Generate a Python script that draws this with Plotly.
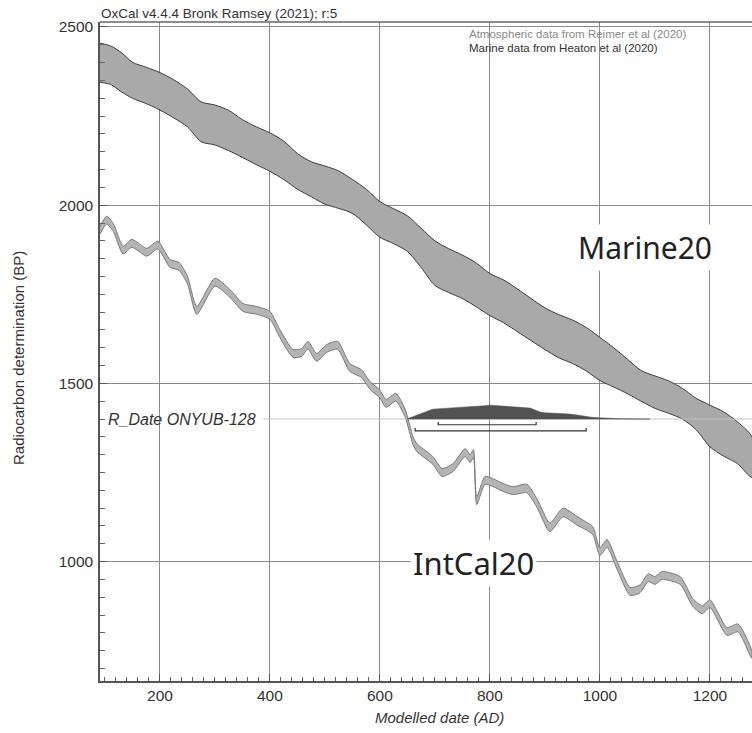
import plotly.graph_objects as go

# ---------------- data ----------------
# IntCal20 atmospheric curve: calendar year AD, mean 14C age BP, 1-sigma
intcal_year = [91, 103, 115, 133, 149, 176, 196, 218, 235, 250, 267, 300, 327, 351, 376,
               400, 418, 442, 458, 469, 485, 503, 523, 545, 566, 582, 600, 611, 629, 646,
               660, 667, 696, 713, 733, 755, 764, 770, 776, 791, 805, 824, 842, 867, 886,
               909, 933, 958, 975, 987, 1000, 1013, 1031, 1055, 1073, 1088, 1100, 1113,
               1146, 1169, 1186, 1200, 1231, 1251, 1276]
intcal_bp = [1930, 1958, 1938, 1874, 1893, 1868, 1888, 1837, 1828, 1790, 1705, 1784, 1753, 1713, 1705,
             1691, 1640, 1584, 1587, 1607, 1573, 1598, 1607, 1545, 1528, 1494, 1470, 1444, 1461, 1416,
             1340, 1320, 1284, 1250, 1264, 1306, 1289, 1303, 1171, 1228, 1222, 1208, 1199, 1205, 1163,
             1096, 1138, 1115, 1100, 1087, 1028, 1051, 990, 916, 924, 955, 947, 961,
             947, 885, 865, 882, 804, 814, 740]
intcal_sigma = [11, 11, 11, 11, 11, 11, 11, 11, 11, 11, 11, 11, 11, 11, 11,
                11, 11, 11, 11, 11, 11, 11, 11, 11, 11, 11, 11, 11, 11, 11,
                11, 11, 11, 11, 11, 11, 11, 11, 11, 11, 11, 11, 11, 12, 12,
                12, 12, 12, 11, 11, 11, 11, 11, 11, 11, 11, 11, 11,
                11, 11, 11, 11, 11, 11, 11]

# Marine20 curve: upper and lower 1-sigma envelope
marine_year = [90, 110, 130, 150, 175, 200, 225, 250, 275, 300, 325, 350, 375, 400, 425,
               450, 475, 500, 525, 550, 575, 600, 625, 650, 675, 700, 725, 750, 775, 800,
               825, 850, 875, 900, 925, 950, 975, 1000, 1025, 1050, 1075, 1100, 1125, 1150,
               1175, 1200, 1225, 1250, 1277]
marine_upper = [2455, 2447, 2428, 2401, 2387, 2372, 2352, 2326, 2290, 2281, 2266, 2240, 2220, 2203, 2180,
                2145, 2122, 2110, 2096, 2072, 2045, 2010, 1990, 1970, 1935, 1900, 1878, 1860, 1838, 1808,
                1790, 1765, 1738, 1712, 1693, 1678, 1657, 1629, 1600, 1568, 1536, 1521, 1507, 1486,
                1458, 1439, 1420, 1392, 1348]
marine_lower = [2345, 2339, 2318, 2300, 2285, 2267, 2245, 2220, 2178, 2169, 2153, 2134, 2114, 2095, 2072,
                2045, 2024, 2003, 1991, 1977, 1945, 1910, 1892, 1870, 1825, 1775, 1755, 1738, 1715, 1690,
                1670, 1645, 1620, 1595, 1572, 1556, 1535, 1508, 1490, 1471, 1450, 1430, 1416, 1400,
                1370, 1322, 1296, 1275, 1236]

# Calibrated R_Date ONYUB-128: relative probability against calendar year
rdate_name = "R_Date ONYUB-128"
rdate_bp = 1400
rdate_year = [649, 660, 673, 685, 696, 710, 727, 740, 758, 775, 790, 800, 812, 825, 836, 850,
              862, 873, 882, 891, 900, 909, 920, 933, 945, 958, 970, 982, 995, 1006, 1020,
              1036, 1060, 1091]
rdate_prob = [0, 0.18, 0.36, 0.55, 0.71, 0.74, 0.79, 0.82, 0.86, 0.90, 0.96, 1.0, 0.97, 0.90, 0.86, 0.83,
              0.80, 0.79, 0.65, 0.50, 0.45, 0.43, 0.44, 0.43, 0.36, 0.29, 0.21, 0.14, 0.10, 0.07, 0.04,
              0.02, 0.01, 0]
range_68 = [706, 884]
range_95 = [664, 975]

x_ticks = [200, 400, 600, 800, 1000, 1200]
y_ticks = [1000, 1500, 2000, 2500]

# ---------------- drawing ----------------
X_RANGE = [91, 1276.5]
Y_RANGE = [665, 2514]
PEAK_HEIGHT = 39      # BP units used for the tallest part of the distribution

fig = go.Figure()

# Marine20 envelope
fig.add_trace(go.Scatter(
    x=marine_year + marine_year[::-1],
    y=marine_upper + marine_lower[::-1],
    fill="toself", fillcolor="#a9a9a9",
    line=dict(color="#3c3c3c", width=1, shape="spline", smoothing=0.8),
    mode="lines", hoverinfo="skip"))

# IntCal20 envelope
ic_hi = [m + s for m, s in zip(intcal_bp, intcal_sigma)]
ic_lo = [m - s for m, s in zip(intcal_bp, intcal_sigma)]
fig.add_trace(go.Scatter(
    x=intcal_year + intcal_year[::-1],
    y=ic_hi + ic_lo[::-1],
    fill="toself", fillcolor="#b4b4b4",
    line=dict(color="#7a7a7a", width=1, shape="spline", smoothing=0.6),
    mode="lines", hoverinfo="skip"))

# R_Date baseline
fig.add_trace(go.Scatter(
    x=[388, X_RANGE[1]], y=[rdate_bp, rdate_bp], mode="lines",
    line=dict(color="#c4c4c4", width=1), hoverinfo="skip"))

# calibrated distribution
fig.add_trace(go.Scatter(
    x=rdate_year + [rdate_year[-1], rdate_year[0]],
    y=[rdate_bp + p * PEAK_HEIGHT for p in rdate_prob] + [rdate_bp, rdate_bp],
    fill="toself", fillcolor="#525252",
    line=dict(color="#4a4a4a", width=0.5), mode="lines", hoverinfo="skip"))

# highest-density ranges as brackets
for rng, off in [(range_68, 16), (range_95, 33)]:
    yb = rdate_bp - off
    fig.add_trace(go.Scatter(
        x=[rng[0], rng[0], rng[1], rng[1]],
        y=[yb + 8, yb, yb, yb + 8], mode="lines",
        line=dict(color="#333333", width=1.2), hoverinfo="skip"))

small = "Liberation Sans, Arial, sans-serif"
axis_font = dict(family=small, size=15.5, color="#333333")

fig.update_layout(
    width=752, height=733,
    margin=dict(l=100, r=0, t=22, b=52),
    paper_bgcolor="white", plot_bgcolor="white",
    showlegend=False,
    xaxis=dict(
        range=X_RANGE, tickmode="array", tickvals=x_ticks,
        ticktext=[str(v) for v in x_ticks],
        showgrid=True, gridcolor="#8a8a8a", gridwidth=1,
        zeroline=False, showline=True, linecolor="#555555", linewidth=1.5,
        ticks="inside", ticklen=7, tickcolor="#555555",
        minor=dict(dtick=20, tick0=0, ticks="inside", ticklen=4, tickcolor="#666666", showgrid=False),
        tickfont=axis_font, ticklabelstandoff=0,
    ),
    yaxis=dict(
        range=Y_RANGE, tickmode="array", tickvals=y_ticks,
        ticktext=[str(v) for v in y_ticks],
        showgrid=True, gridcolor="#8a8a8a", gridwidth=1,
        zeroline=False, showline=True, linecolor="#555555", linewidth=1.5,
        ticks="inside", ticklen=7, tickcolor="#555555",
        minor=dict(dtick=50, tick0=0, ticks="inside", ticklen=5, tickcolor="#666666", showgrid=False),
        tickfont=axis_font, ticklabelstandoff=2,
    ),
)

# top frame line
fig.add_shape(type="line", xref="paper", yref="paper", x0=0, x1=1, y0=1, y1=1,
              line=dict(color="#666666", width=1.5))

fig.add_annotation(text="OxCal v4.4.4 Bronk Ramsey (2021); r:5", xref="paper", yref="paper",
                   x=0.0, y=1.0, xanchor="left", yanchor="bottom", yshift=0, showarrow=False,
                   borderpad=0, font=dict(family=small, size=13.5, color="#333333"))
fig.add_annotation(text="Atmospheric data from Reimer et al (2020)", x=760, y=2479,
                   xanchor="left", yanchor="middle", showarrow=False, borderpad=0,
                   font=dict(family=small, size=11.5, color="#8a8a8a"))
fig.add_annotation(text="Marine data from Heaton et al (2020)", x=760, y=2442,
                   xanchor="left", yanchor="middle", showarrow=False, borderpad=0,
                   font=dict(family=small, size=11.5, color="#333333"))

fig.add_annotation(text="<i>" + rdate_name + "</i>", xref="paper", x=0.009, y=rdate_bp,
                   xanchor="left", yanchor="middle", showarrow=False,
                   font=dict(family=small, size=16, color="#333333"))

fig.add_annotation(text="Marine20", x=1082, y=1880, showarrow=False, bgcolor="white",
                   borderpad=2, font=dict(family="Noto Sans, sans-serif", size=30, color="#222222"))
fig.add_annotation(text="IntCal20", x=771, y=995, showarrow=False, bgcolor="white",
                   borderpad=2, font=dict(family="Noto Sans, sans-serif", size=31, color="#222222"))

fig.add_annotation(text="Radiocarbon determination (BP)", xref="paper", yref="paper",
                   x=-0.142, y=0.49, textangle=-90, showarrow=False,
                   font=dict(family=small, size=15, color="#333333"))
fig.add_annotation(text="<i>Modelled date (AD)</i>", xref="paper", yref="paper",
                   x=0.52, y=-0.055, yanchor="middle", showarrow=False,
                   font=dict(family=small, size=15, color="#333333"))

fig.write_html("out.html")
